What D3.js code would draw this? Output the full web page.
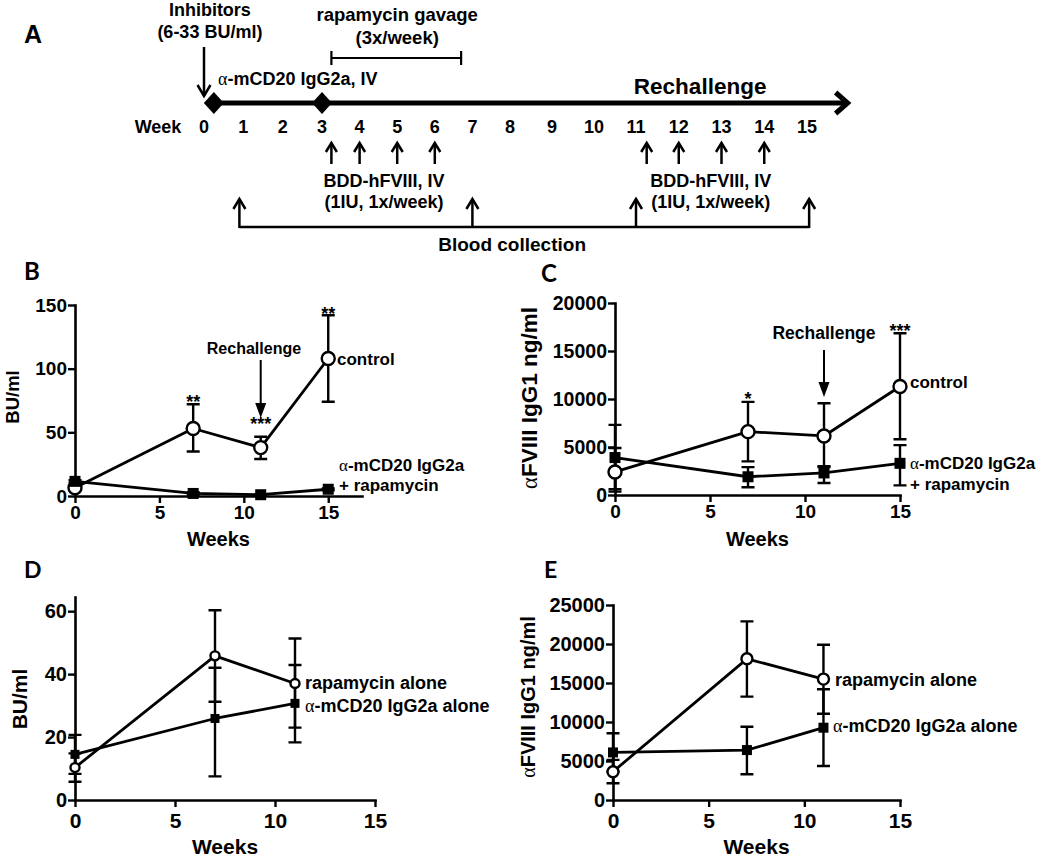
<!DOCTYPE html>
<html><head><meta charset="utf-8">
<script src="https://cdn.jsdelivr.net/npm/d3@7"></script>
<style>
body{margin:0;background:#fff}
text{font-family:"Liberation Sans",Arial,sans-serif;font-weight:bold;fill:#000}
.greek{font-family:"Liberation Serif","DejaVu Serif",serif;font-weight:normal}
.plabel{font-family:Lato,"Open Sans",sans-serif;font-weight:bold}
</style>
</head><body>
<svg id="c" width="1050" height="866"></svg>
<script>
// ---------- Panel A (timeline) data ----------
const timelineWeeks = d3.range(0, 16);
const cd20Weeks = [0.25, 3];
const rapaSpan = [3.25, 6.7];
const injectionWeeksA = [3.25, 4, 5, 6];
const injectionWeeksB = [11.25, 12, 13, 14];
const bloodWeeks = [0.9, 7, 11, 15.05];

// ---------- Panel B data (BU/ml) ----------
const weeksBC = [0, 7, 11, 15];
const bControl   = [6.5, 53, 38, 108];
const bControlHi = [8, 72, 46.5, 142];
const bControlLo = [5, 35, 29, 74];
const bCombo     = [11.5, 2, 1, 5.3];
const bComboHi   = [12.5, 3, 1.5, 6];
const bComboLo   = [10.5, 1, 0.5, 4.5];
const bTicksY = [0, 50, 100, 150];
const bTicksX = [0, 5, 10, 15];
const bStars = [{w: 7, v: 69, t: "**"}, {w: 11, v: 52, t: "***"}, {w: 15, v: 138, t: "**"}];

// ---------- Panel C data (aFVIII IgG1 ng/ml) ----------
const cControl   = [2400, 6600, 6150, 11300];
const cControlHi = [7300, 9700, 9550, 16850];
const cControlLo = [350, 3500, 2900, 5800];
const cCombo     = [3900, 1900, 2300, 3300];
const cComboHi   = [4900, 2900, 3000, 5200];
const cComboLo   = [600, 800, 1250, 1000];
const cTicksY = [0, 5000, 10000, 15000, 20000];
const cTicksX = [0, 5, 10, 15];
const cStars = [{w: 7, v: 9400, t: "*"}, {w: 15, v: 16500, t: "***"}];

// ---------- Panel D data (BU/ml) ----------
const weeksDE = [0, 7, 11];
const dRapa     = [10.3, 45.8, 37];
const dRapaHi   = [14.8, 60.3, 51.3];
const dRapaLo   = [5.8, 31.2, 23];
const dCd20     = [14.5, 25.9, 30.7];
const dCd20Hi   = [20.7, 42, 42.9];
const dCd20Lo   = [8.3, 7.5, 18.3];
const dTicksY = [0, 20, 40, 60];
const dTicksX = [0, 5, 10, 15];

// ---------- Panel E data (aFVIII IgG1 ng/ml) ----------
const eRapa     = [3630, 18100, 15500];
const eRapaHi   = [5150, 22900, 19900];
const eRapaLo   = [2150, 13250, 11050];
const eCd20     = [6100, 6400, 9270];
const eCd20Hi   = [8550, 9400, 14200];
const eCd20Lo   = [3650, 3300, 4360];
const eTicksY = [0, 5000, 10000, 15000, 20000, 25000];
const eTicksX = [0, 5, 10, 15];

const svg = d3.select("#c");

// ---------- helpers ----------
function chevron(g, x, y, dir, w, h, sw) {
  let pts;
  if (dir === 'up') pts = [[x - w, y + h], [x, y], [x + w, y + h]];
  else if (dir === 'down') pts = [[x - w, y - h], [x, y], [x + w, y - h]];
  else pts = [[x - h, y - w], [x, y], [x - h, y + w]];
  g.append("path").attr("d", d3.line()(pts)).attr("fill", "none")
    .attr("stroke", "#000").attr("stroke-width", sw).attr("stroke-linejoin", "miter");
}
function txt(g, x, y, s, size, anchor) {
  return g.append("text").attr("x", x).attr("y", y).attr("font-size", size)
    .attr("text-anchor", anchor || "start").text(s);
}
function greekTxt(g, x, y, rest, size, anchor) {
  const t = g.append("text").attr("x", x).attr("y", y).attr("font-size", size)
    .attr("text-anchor", anchor || "start");
  t.append("tspan").attr("class", "greek").text("\u03B1");
  t.append("tspan").text(rest);
  return t;
}

// ---------- Panel A ----------
(function () {
  const g = svg.append("g");
  const tx = d3.scaleLinear().domain([0, 3, 8, 11, 15]).range([204, 322, 510, 636, 807]);
  txt(g, 24, 43, "A", 25);
  txt(g, tx(0.15), 16, "Inhibitors", 18, "middle");
  txt(g, tx(0.15), 38, "(6-33 BU/ml)", 18, "middle");
  g.append("line").attr("x1", tx(0)).attr("x2", tx(0)).attr("y1", 47).attr("y2", 96)
    .attr("stroke", "#000").attr("stroke-width", 2.5);
  chevron(g, tx(0), 96, 'down', 6.5, 11, 2.5);
  greekTxt(g, 218, 85, "-mCD20 IgG2a, IV", 18);
  txt(g, tx(5), 21, "rapamycin gavage", 18.5, "middle");
  txt(g, tx(5), 44, "(3x/week)", 18.5, "middle");
  const bx0 = tx(rapaSpan[0]), bx1 = tx(rapaSpan[1]);
  g.append("path").attr("d", `M${bx0},51V65M${bx0},58H${bx1}M${bx1},51V65`)
    .attr("fill", "none").attr("stroke", "#000").attr("stroke-width", 2.2);
  g.append("line").attr("x1", tx(cd20Weeks[0])).attr("x2", tx(15.95)).attr("y1", 103).attr("y2", 103)
    .attr("stroke", "#000").attr("stroke-width", 5);
  chevron(g, tx(15.95), 103, 'right', 10.5, 12, 5);
  g.selectAll(".dia").data(cd20Weeks).enter().append("path")
    .attr("d", d => { const x = tx(d); return `M${x},92L${x + 10},103L${x},114L${x - 10},103Z`; })
    .attr("fill", "#000");
  txt(g, tx(12.5), 94, "Rechallenge", 22.5, "middle");
  txt(g, 158, 133, "Week", 18, "middle");
  g.selectAll(".wk").data(timelineWeeks).enter().append("text")
    .attr("x", d => tx(d)).attr("y", 133).attr("font-size", 18).attr("text-anchor", "middle").text(d => d);
  [...injectionWeeksA, ...injectionWeeksB].forEach(w => {
    g.append("line").attr("x1", tx(w)).attr("x2", tx(w)).attr("y1", 164).attr("y2", 143)
      .attr("stroke", "#000").attr("stroke-width", 2.5);
    chevron(g, tx(w), 143, 'up', 5.5, 9, 2.5);
  });
  txt(g, tx(4.65), 187, "BDD-hFVIII, IV", 18, "middle");
  txt(g, tx(4.65), 208, "(1IU, 1x/week)", 18, "middle");
  txt(g, tx(12.75), 187, "BDD-hFVIII, IV", 18, "middle");
  txt(g, tx(12.75), 208, "(1IU, 1x/week)", 18, "middle");
  g.append("line").attr("x1", tx(bloodWeeks[0])).attr("x2", tx(bloodWeeks[bloodWeeks.length - 1]))
    .attr("y1", 227).attr("y2", 227).attr("stroke", "#000").attr("stroke-width", 2.5);
  bloodWeeks.forEach(w => {
    g.append("line").attr("x1", tx(w)).attr("x2", tx(w)).attr("y1", 228).attr("y2", 199)
      .attr("stroke", "#000").attr("stroke-width", 2.5);
    chevron(g, tx(w), 199, 'up', 6, 10, 2.5);
  });
  txt(g, tx(8.05), 251, "Blood collection", 19, "middle");
})();

// ---------- generic XY panel ----------
function drawPanel(p) {
  const g = svg.append("g");
  const x = d3.scaleLinear().domain(p.xDomain).range(p.xRange);
  const y = d3.scaleLinear().domain(p.yDomain).range(p.yRange);
  const ya = g.append("g").attr("transform", `translate(${p.xRange[0]},0)`)
    .call(d3.axisLeft(y).tickValues(p.yTicks).tickSize(7).tickSizeOuter(0).tickPadding(1).tickFormat(d3.format("d")));
  const xa = g.append("g").attr("transform", `translate(0,${p.yRange[0]})`)
    .call(d3.axisBottom(x).tickValues(p.xTicks).tickSize(7).tickSizeOuter(0).tickPadding(p.xPad).tickFormat(d3.format("d")));
  [ya, xa].forEach(a => {
    a.attr("font-family", null);
    a.select(".domain").attr("stroke", "#000").attr("stroke-width", 2.6).attr("stroke-linecap", "square");
    a.selectAll(".tick line").attr("stroke", "#000").attr("stroke-width", 2.4);
  });
  ya.attr("font-size", p.yTickSize);
  xa.attr("font-size", p.xTickSize);
  ya.selectAll("text").attr("fill", "#000");
  xa.selectAll("text").attr("fill", "#000");
  txt(g, p.panelPos[0], p.panelPos[1], p.panel, p.panelSize).attr("class", "plabel");
  txt(g, (p.xRange[0] + p.xRange[1]) / 2, p.xLabelY, "Weeks", p.xLabelSize, "middle");
  const yl = g.append("text").attr("transform", `translate(${p.yLabelPos[0]},${p.yLabelPos[1]}) rotate(-90)`)
    .attr("font-size", p.yLabelSize).attr("text-anchor", "middle");
  if (p.yLabelGreek) { yl.append("tspan").attr("class", "greek").text("\u03B1"); }
  yl.append("tspan").text(p.yLabel);

  p.series.forEach(s => {
    const pts = p.weeks.map((w, i) => ({w, v: s.vals[i], hi: s.hi[i], lo: s.lo[i]}));
    const eb = g.append("g");
    pts.forEach(d => {
      const cx = x(d.w);
      eb.append("path")
        .attr("d", `M${cx},${y(d.hi)}V${y(d.lo)}M${cx - p.cap},${y(d.hi)}H${cx + p.cap}M${cx - p.cap},${y(d.lo)}H${cx + p.cap}`)
        .attr("fill", "none").attr("stroke", "#000").attr("stroke-width", 2.4);
    });
    g.append("path").datum(pts)
      .attr("d", d3.line().x(d => x(d.w)).y(d => y(d.v)))
      .attr("fill", "none").attr("stroke", "#000").attr("stroke-width", 2.8).attr("stroke-linejoin", "round");
    s.pts = pts;
  });
  p.series.forEach(s => {
    if (s.marker === "circle") {
      g.selectAll(null).data(s.pts).enter().append("circle")
        .attr("cx", d => x(d.w)).attr("cy", d => y(d.v)).attr("r", p.r)
        .attr("fill", "#fff").attr("stroke", "#000").attr("stroke-width", 2.4);
    } else {
      g.selectAll(null).data(s.pts).enter().append("rect")
        .attr("x", d => x(d.w) - p.sq / 2).attr("y", d => y(d.v) - p.sq / 2)
        .attr("width", p.sq).attr("height", p.sq).attr("fill", "#000");
    }
  });
  return {g, x, y};
}

// ---------- Panel B ----------
(function () {
  const {g, x, y} = drawPanel({
    panel: "B", panelPos: [24, 280], panelSize: 24,
    xDomain: [0, 17], xRange: [75, 362], yDomain: [0, 150], yRange: [496, 305],
    yTicks: bTicksY, xTicks: bTicksX, xPad: 3, yTickSize: 19, xTickSize: 19,
    xLabelY: 546, xLabelSize: 20, yLabel: "BU/ml", yLabelPos: [19, 397], yLabelSize: 18.5,
    weeks: weeksBC, r: 6.5, sq: 11, cap: 6.5,
    series: [
      {vals: bControl, hi: bControlHi, lo: bControlLo, marker: "circle"},
      {vals: bCombo, hi: bComboHi, lo: bComboLo, marker: "square"}
    ]
  });
  bStars.forEach(s => txt(g, x(s.w), y(s.v), s.t, 18, "middle"));
  txt(g, x(10.6), 354, "Rechallenge", 16, "middle");
  g.append("line").attr("x1", x(11)).attr("x2", x(11)).attr("y1", 360).attr("y2", 405)
    .attr("stroke", "#000").attr("stroke-width", 2);
  g.append("path").attr("d", `M${x(11) - 5.5},403L${x(11) + 5.5},403L${x(11)},418Z`).attr("fill", "#000");
  txt(g, 337, 365, "control", 17);
  greekTxt(g, 339, 471, "-mCD20 IgG2a", 17);
  txt(g, 339, 491, "+ rapamycin", 17);
})();

// ---------- Panel C ----------
(function () {
  const {g, x, y} = drawPanel({
    panel: "C", panelPos: [541, 282], panelSize: 24,
    xDomain: [0, 15], xRange: [615, 900], yDomain: [0, 20000], yRange: [495, 303],
    yTicks: cTicksY, xTicks: cTicksX, xPad: 3, yTickSize: 19.5, xTickSize: 19,
    xLabelY: 546, xLabelSize: 20, yLabel: "FVIII IgG1 ng/ml", yLabelGreek: true,
    yLabelPos: [537, 398], yLabelSize: 22.5,
    weeks: weeksBC, r: 6.5, sq: 11, cap: 6.5,
    series: [
      {vals: cControl, hi: cControlHi, lo: cControlLo, marker: "circle"},
      {vals: cCombo, hi: cComboHi, lo: cComboLo, marker: "square"}
    ]
  });
  cStars.forEach(s => txt(g, x(s.w), y(s.v), s.t, 18, "middle"));
  txt(g, x(11), 339, "Rechallenge", 17.5, "middle");
  g.append("line").attr("x1", x(11)).attr("x2", x(11)).attr("y1", 350).attr("y2", 384)
    .attr("stroke", "#000").attr("stroke-width", 2);
  g.append("path").attr("d", `M${x(11) - 5.5},382L${x(11) + 5.5},382L${x(11)},397Z`).attr("fill", "#000");
  txt(g, 910, 388, "control", 17);
  greekTxt(g, 910, 469, "-mCD20 IgG2a", 17);
  txt(g, 910, 490, "+ rapamycin", 17);
})();

// ---------- Panel D ----------
(function () {
  const {g, x, y} = drawPanel({
    panel: "D", panelPos: [24, 578], panelSize: 23,
    xDomain: [0, 15], xRange: [75, 375], yDomain: [0, 64.5], yRange: [800, 597],
    yTicks: dTicksY, xTicks: dTicksX, xPad: 6, yTickSize: 20, xTickSize: 21,
    xLabelY: 854, xLabelSize: 21, yLabel: "BU/ml", yLabelPos: [27, 699], yLabelSize: 21,
    weeks: weeksDE, r: 4.5, sq: 9, cap: 6.5,
    series: [
      {vals: dRapa, hi: dRapaHi, lo: dRapaLo, marker: "circle"},
      {vals: dCd20, hi: dCd20Hi, lo: dCd20Lo, marker: "square"}
    ]
  });
  txt(g, 305, 689, "rapamycin alone", 18);
  greekTxt(g, 305, 712, "-mCD20 IgG2a alone", 18);
})();

// ---------- Panel E ----------
(function () {
  const {g, x, y} = drawPanel({
    panel: "E", panelPos: [544, 578], panelSize: 23,
    xDomain: [0, 15], xRange: [613, 900], yDomain: [0, 25000], yRange: [800, 605],
    yTicks: eTicksY, xTicks: eTicksX, xPad: 6, yTickSize: 20, xTickSize: 21,
    xLabelY: 854, xLabelSize: 21, yLabel: "FVIII IgG1 ng/ml", yLabelGreek: true,
    yLabelPos: [535, 697], yLabelSize: 20,
    weeks: weeksDE, r: 5.5, sq: 10, cap: 6.5,
    series: [
      {vals: eRapa, hi: eRapaHi, lo: eRapaLo, marker: "circle"},
      {vals: eCd20, hi: eCd20Hi, lo: eCd20Lo, marker: "square"}
    ]
  });
  txt(g, 835, 686, "rapamycin alone", 18);
  greekTxt(g, 833, 732, "-mCD20 IgG2a alone", 18);
})();
</script>
</body></html>
